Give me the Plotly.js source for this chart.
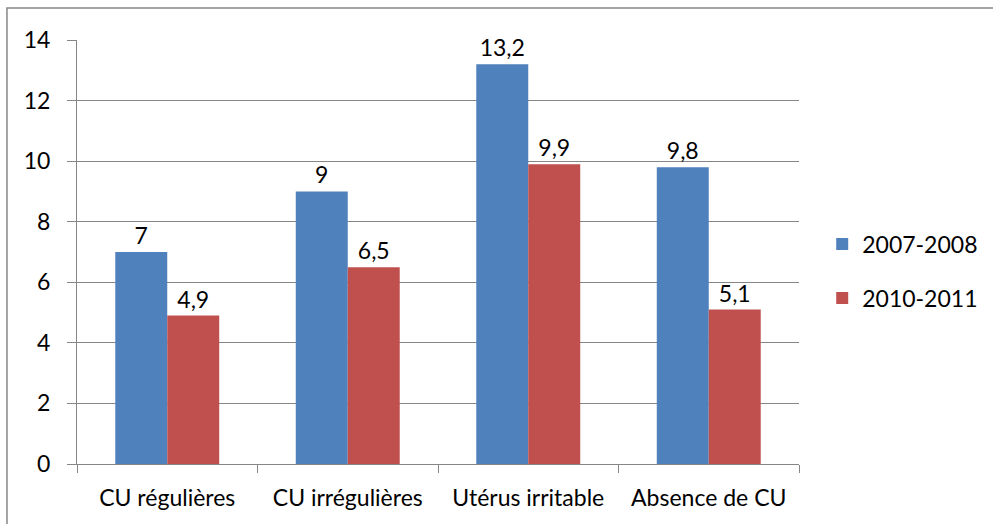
<!DOCTYPE html>
<html>
<head>
<meta charset="utf-8">
<script src="https://cdn.plot.ly/plotly-3.0.1.min.js"></script>
<style>body{margin:0;padding:0;background:#fff}#chart{width:993px;height:524px}</style>
</head>
<body>
<div id="chart"></div>
<script>
const categories = ["CU régulières", "CU irrégulières", "Utérus irritable", "Absence de CU"];
const series1Name = "2007-2008";
const series1Values = [7, 9, 13.2, 9.8];
const series2Name = "2010-2011";
const series2Values = [4.9, 6.5, 9.9, 5.1];
const yTicks = [0, 2, 4, 6, 8, 10, 12, 14];

const FONT = "Lato, 'Open Sans', sans-serif";
const FS = 23;
const traces = [
  {type: "bar", name: series1Name, x: categories, y: series1Values,
   marker: {color: "#4F81BD"}, text: series1Values, texttemplate: "%{y}",
   textposition: "outside", cliponaxis: false, legendgroup: "a",
   textfont: {family: FONT, size: FS, color: "#000"}},
  {type: "bar", name: series2Name, x: categories, y: series2Values,
   marker: {color: "#C0504D"}, text: series2Values, texttemplate: "%{y}",
   textposition: "outside", cliponaxis: false, legendgroup: "b",
   textfont: {family: FONT, size: FS, color: "#000"}}
];

const layout = {
  width: 993, height: 524,
  margin: {l: 77, r: 194, t: 40, b: 60, autoexpand: false},
  paper_bgcolor: "#fff", plot_bgcolor: "#fff",
  separators: ", ",
  font: {family: FONT, size: FS, color: "#000"},
  barmode: "group", bargap: 0.424, bargroupgap: 0,
  showlegend: true,
  legend: {xref: "container", x: 0.828, xanchor: "left", y: 0.455, yanchor: "middle",
           font: {family: FONT, size: FS, color: "#000"}, tracegroupgap: 21,
           bgcolor: "rgba(0,0,0,0)"},
  xaxis: {type: "category", showline: true, linecolor: "#868686", linewidth: 1,
          ticks: "outside", tickson: "boundaries", ticklen: 8, tickcolor: "#868686",
          showgrid: false, zeroline: false, fixedrange: true, automargin: false,
          tickfont: {family: FONT, size: FS, color: "#000"}, ticklabelstandoff: 13},
  yaxis: {range: [0, 14], tickvals: yTicks, showline: true, linecolor: "#868686", linewidth: 1,
          ticks: "outside", ticklen: 9, tickcolor: "#868686", automargin: false,
          showgrid: true, gridcolor: "#868686", gridwidth: 1, zeroline: false,
          tickfont: {family: FONT, size: FS, color: "#000"}, ticklabelstandoff: 12},
  shapes: [{type: "rect", xref: "paper", yref: "paper", x0: -0.097, x1: 1.28, y0: -0.16, y1: 1.0755,
            line: {color: "#868686", width: 1.5}, fillcolor: "rgba(0,0,0,0)", layer: "below"}]
};

Plotly.newPlot("chart", traces, layout, {displayModeBar: false, staticPlot: true});
</script>
</body>
</html>
